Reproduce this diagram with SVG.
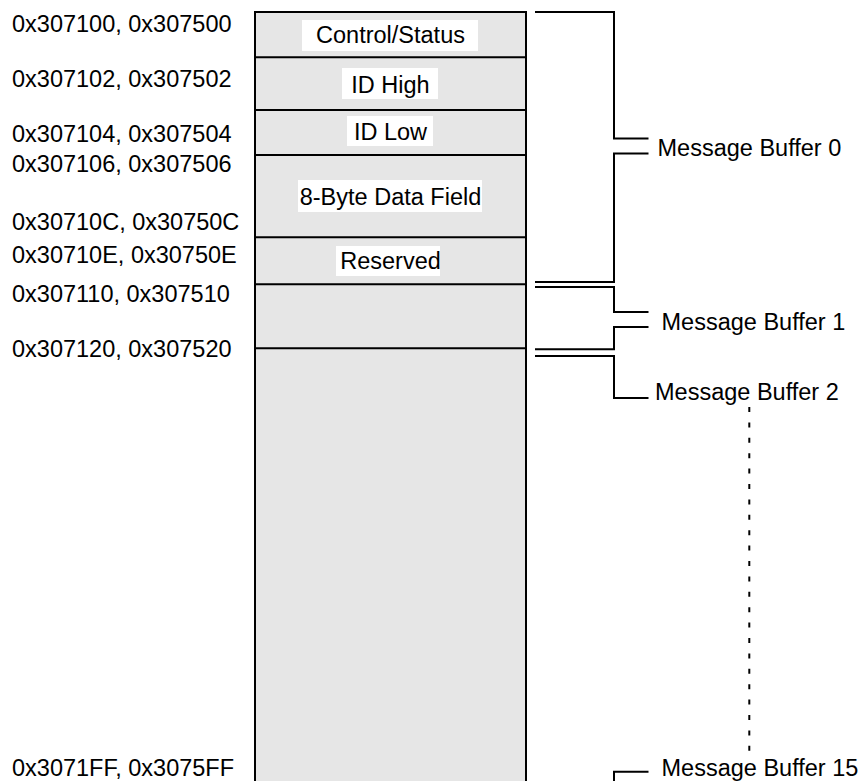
<svg xmlns="http://www.w3.org/2000/svg" width="864" height="781" viewBox="0 0 864 781">
<style>
text{font-family:"Liberation Sans",Arial,Helvetica,sans-serif;font-size:23.5px;fill:#000}
.mid{text-anchor:middle}
.ln{stroke:#000;stroke-width:2;fill:none}
.lbl{fill:#fff;stroke:none}
</style>
<rect x="0" y="0" width="864" height="781" fill="#fff"/>
<g id="memory-block">
<rect x="255" y="12" width="271" height="780" fill="#e6e6e6" stroke="#000" stroke-width="2"/>
<line class="ln" x1="255" y1="57.3" x2="526" y2="57.3"/>
<line class="ln" x1="255" y1="110" x2="526" y2="110"/>
<line class="ln" x1="255" y1="155" x2="526" y2="155"/>
<line class="ln" x1="255" y1="237.3" x2="526" y2="237.3"/>
<line class="ln" x1="255" y1="284.3" x2="526" y2="284.3"/>
<line class="ln" x1="255" y1="348.3" x2="526" y2="348.3"/>
</g>
<g id="field-control-status">
<rect class="lbl" x="302" y="20" width="176" height="31"/>
<text class="mid" x="390.5" y="42.5">Control/Status</text>
</g>
<g id="field-id-high">
<rect class="lbl" x="342" y="68" width="96" height="31"/>
<text class="mid" x="390.5" y="92.5">ID High</text>
</g>
<g id="field-id-low">
<rect class="lbl" x="347" y="116" width="86" height="30"/>
<text class="mid" x="390.5" y="140">ID Low</text>
</g>
<g id="field-data">
<rect class="lbl" x="298" y="180" width="184" height="32"/>
<text class="mid" x="390.5" y="204.5">8-Byte Data Field</text>
</g>
<g id="field-reserved">
<rect class="lbl" x="336" y="246" width="104" height="30"/>
<text class="mid" x="390.5" y="268.5">Reserved</text>
</g>
<g id="addresses">
<text x="12" y="31.7">0x307100, 0x307500</text>
<text x="12" y="87">0x307102, 0x307502</text>
<text x="12" y="141.7">0x307104, 0x307504</text>
<text x="12" y="171.7">0x307106, 0x307506</text>
<text x="12" y="230">0x30710C, 0x30750C</text>
<text x="12" y="263">0x30710E, 0x30750E</text>
<text x="12" y="301.7">0x307110, 0x307510</text>
<text x="12" y="356.7">0x307120, 0x307520</text>
<text x="12" y="776">0x3071FF, 0x3075FF</text>
</g>
<g id="connectors">
<polyline class="ln" points="535,12 614,12 614,138.5 648.5,138.5"/>
<polyline class="ln" points="648.5,153.5 614,153.5 614,282 535,282"/>
<polyline class="ln" points="535,287 614,287 614,312 648.5,312"/>
<polyline class="ln" points="648.5,327 614,327 614,349.3 535,349.3"/>
<polyline class="ln" points="535,356 614,356 614,398 648.5,398"/>
<line class="ln" x1="749.3" y1="407" x2="749.3" y2="752" stroke-dasharray="5 10.4"/>
<polyline class="ln" points="648.5,771.7 614,771.7 614,782"/>
</g>
<g id="buffer-labels">
<text x="657.5" y="156">Message Buffer 0</text>
<text x="661.5" y="329.5">Message Buffer 1</text>
<text x="655" y="399.5">Message Buffer 2</text>
<text x="661.5" y="776">Message Buffer 15</text>
</g>
</svg>
